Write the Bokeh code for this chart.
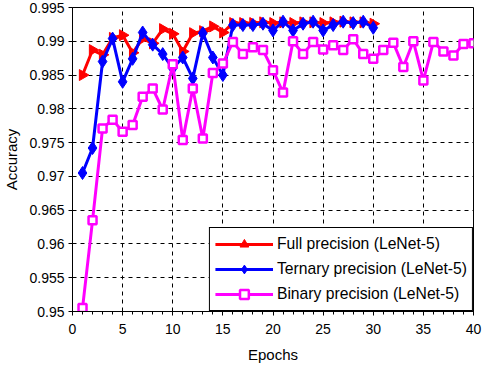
import math
from bokeh.plotting import figure
from bokeh.models import FixedTicker, Range1d, Legend, LegendItem, ColumnDataSource
from bokeh.embed import file_html
from bokeh.resources import INLINE

# ---- data ----
epochs_full = list(range(1, 31))
full_precision = [0.9850, 0.9887, 0.9880, 0.9905, 0.9909, 0.9883, 0.9904, 0.9897, 0.9918, 0.9911,
                  0.9885, 0.9912, 0.9915, 0.9922, 0.9913, 0.9927, 0.9927, 0.9927, 0.9928, 0.9927,
                  0.9928, 0.9927, 0.9928, 0.9928, 0.9927, 0.9928, 0.9929, 0.9928, 0.9928, 0.9926]

epochs_ternary = list(range(1, 31))
ternary_precision = [0.9705, 0.9742, 0.9870, 0.9904, 0.9840, 0.9874, 0.9913, 0.9895, 0.9881, 0.9860,
                     0.9876, 0.9845, 0.9912, 0.9876, 0.9850, 0.9924, 0.9924, 0.9924, 0.9926, 0.9916,
                     0.9929, 0.9916, 0.9926, 0.9929, 0.9916, 0.9924, 0.9929, 0.9927, 0.9929, 0.9920]

epochs_binary = list(range(1, 41))
binary_precision = [0.9505, 0.9635, 0.9771, 0.9784, 0.9766, 0.9776, 0.9818, 0.9830, 0.9799, 0.9866,
                    0.9754, 0.9830, 0.9756, 0.9853, 0.9867, 0.9899, 0.9881, 0.9891, 0.9887, 0.9857,
                    0.9824, 0.9900, 0.9881, 0.9899, 0.9888, 0.9894, 0.9887, 0.9903, 0.9881, 0.9874,
                    0.9887, 0.9898, 0.9862, 0.9900, 0.9842, 0.9899, 0.9885, 0.9879, 0.9896, 0.9897]

x_ticks = [0, 5, 10, 15, 20, 25, 30, 35, 40]
x_minor = list(range(0, 41))
y_ticks = [0.95, 0.955, 0.96, 0.965, 0.97, 0.975, 0.98, 0.985, 0.99, 0.995]
y_tick_labels = ["0.95", "0.955", "0.96", "0.965", "0.97", "0.975", "0.98", "0.985", "0.99", "0.995"]

labels = ["Full precision (LeNet-5)", "Ternary precision (LeNet-5)", "Binary precision (LeNet-5)"]

FONT = "Liberation Sans"

p = figure(width=482, height=366, output_backend="svg", toolbar_location=None,
           x_range=Range1d(0, 40), y_range=Range1d(0.95, 0.995),
           min_border_left=71, min_border_right=9, min_border_top=7, min_border_bottom=55)

p.background_fill_color = "white"
p.border_fill_color = "white"
p.outline_line_color = "black"
p.outline_line_width = 1
p.outline_line_alpha = 1

# axes
p.xaxis.ticker = FixedTicker(ticks=x_ticks, minor_ticks=x_minor)
p.yaxis.ticker = FixedTicker(ticks=y_ticks, minor_ticks=[])
p.yaxis.major_label_overrides = {t: l for t, l in zip(y_ticks, y_tick_labels)}
for ax in (p.xaxis, p.yaxis):
    ax.axis_line_color = "black"
    ax.major_tick_line_color = "black"
    ax.minor_tick_line_color = "black"
    ax.major_label_text_font = FONT
    ax.major_label_text_font_size = "14px"
    ax.major_label_text_color = "black"
    ax.axis_label_text_font = FONT
    ax.axis_label_text_font_size = "15px"
    ax.axis_label_text_font_style = "normal"
    ax.axis_label_text_color = "black"
p.xaxis.major_tick_out = 4
p.xaxis.major_tick_in = 0
p.xaxis.minor_tick_out = 3
p.xaxis.minor_tick_in = 0
p.yaxis.major_tick_out = 4
p.yaxis.major_tick_in = 0
p.yaxis.minor_tick_out = 0
p.xaxis.axis_label = "Epochs"
p.yaxis.axis_label = "Accuracy"
p.xaxis.major_label_standoff = 8
p.xaxis.axis_label_standoff = 9
p.yaxis.major_label_standoff = 4
p.yaxis.axis_label_standoff = 6

# grid
p.xgrid.ticker = FixedTicker(ticks=x_ticks)
p.ygrid.ticker = FixedTicker(ticks=y_ticks)
for g in (p.xgrid, p.ygrid):
    g.grid_line_color = "black"
    g.grid_line_alpha = 1
    g.grid_line_width = 1
    g.grid_line_dash = "4 4"

RED = "#ff0000"
BLUE = "#0000ff"
MAG = "#ff00ff"

src_full = ColumnDataSource(dict(x=epochs_full, y=full_precision,
                                 ang=[-math.pi / 2] * len(epochs_full)))

l1 = p.line(epochs_full, full_precision, line_color=RED, line_width=3)
s1 = p.scatter("x", "y", source=src_full, marker="triangle", angle="ang", angle_units="rad",
               size=11, fill_color=RED, line_color=RED, line_width=1)

l2 = p.line(epochs_ternary, ternary_precision, line_color=BLUE, line_width=3)
s2 = p.scatter(epochs_ternary, ternary_precision, marker="diamond",
               size=13, fill_color=BLUE, line_color=BLUE, line_width=1)

l3 = p.line(epochs_binary, binary_precision, line_color=MAG, line_width=3)
s3 = p.scatter(epochs_binary, binary_precision, marker="square",
               size=8, fill_color="white", line_color=MAG, line_width=2.5)

legend = Legend(items=[LegendItem(label=labels[0], renderers=[l1, s1]),
                       LegendItem(label=labels[1], renderers=[l2, s2]),
                       LegendItem(label=labels[2], renderers=[l3, s3])],
                location="bottom_right")
legend.margin = 0
legend.padding = 5
legend.spacing = 3
legend.glyph_width = 58
legend.glyph_height = 22
legend.label_standoff = 4
legend.label_text_font = FONT
legend.label_text_font_size = "15.7px"
legend.label_text_color = "black"
legend.border_line_color = "black"
legend.border_line_width = 1
legend.border_line_alpha = 1
legend.background_fill_color = "white"
legend.background_fill_alpha = 1
p.add_layout(legend)

open("out.html", "w").write(file_html(p, INLINE))
